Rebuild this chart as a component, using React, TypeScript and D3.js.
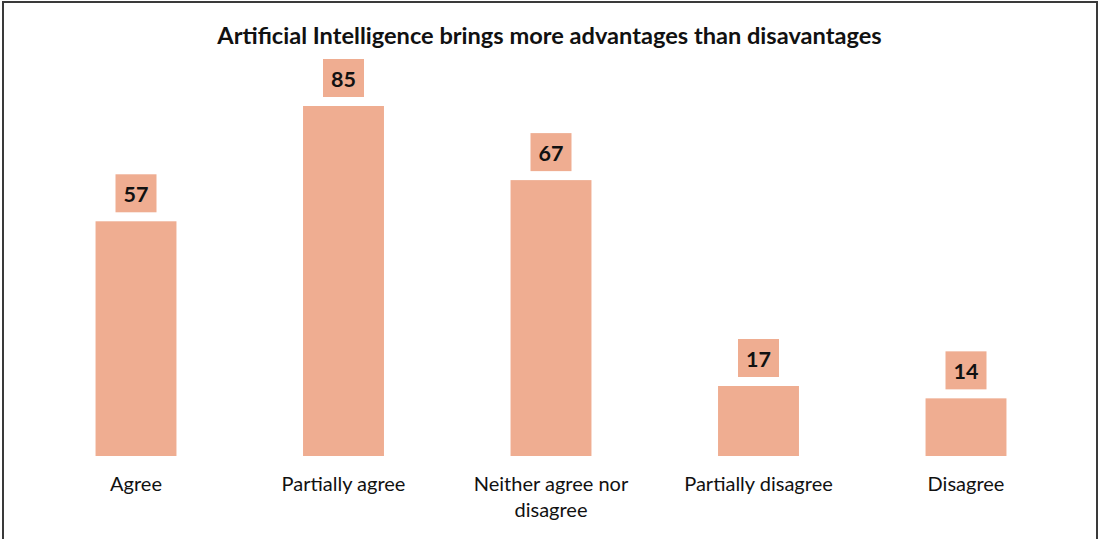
import React from "react";
import * as d3 from "d3";

const categories: string[][] = [
  ["Agree"],
  ["Partially agree"],
  ["Neither agree nor", "disagree"],
  ["Partially disagree"],
  ["Disagree"],
];
const values: number[] = [57, 85, 67, 17, 14];
const title = "Artificial Intelligence brings more advantages than disavantages";

const W = 1099;
const H = 539;
const BAR = "#EFAD91";
const FONT = "Lato, 'Open Sans', sans-serif";

export default function App() {
  const keys = categories.map((c) => c.join(" "));
  const x = d3
    .scaleBand<string>()
    .domain(keys)
    .range([32.25, 1069.75])
    .paddingInner(0.61)
    .paddingOuter(0.305);
  const y = d3.scaleLinear().domain([0, 85]).range([456, 106]);

  const boxW = 41;
  const boxH = 38;
  const gap = 9;

  return (
    <svg
      width={W}
      height={H}
      style={{ position: "absolute", left: 0, top: 0, background: "#fff" }}
      fontFamily={FONT}
    >
      <rect x={3} y={2} width={1094} height={560} fill="#fff" stroke="#3a3a3a" strokeWidth={2} />
      <text x={549.5} y={44} textAnchor="middle" fontWeight="bold" fontSize={23.6} fill="#111">
        {title}
      </text>
      {values.map((v, i) => {
        const k = keys[i];
        const bx = x(k)!;
        const cx = bx + x.bandwidth() / 2;
        const top = y(v);
        const boxBottom = top - gap;
        return (
          <g key={k}>
            <rect x={bx} y={top} width={x.bandwidth()} height={y(0) - top} fill={BAR} />
            <rect x={cx - boxW / 2} y={boxBottom - boxH} width={boxW} height={boxH} fill={BAR} />
            <text x={cx} y={boxBottom - 10.4} textAnchor="middle" fontWeight="bold" fontSize={21.5} fill="#111">
              {v}
            </text>
            {categories[i].map((line, j) => (
              <text key={j} x={cx} y={491 + j * 25.5} textAnchor="middle" fontSize={20} fill="#111">
                {line}
              </text>
            ))}
          </g>
        );
      })}
    </svg>
  );
}
